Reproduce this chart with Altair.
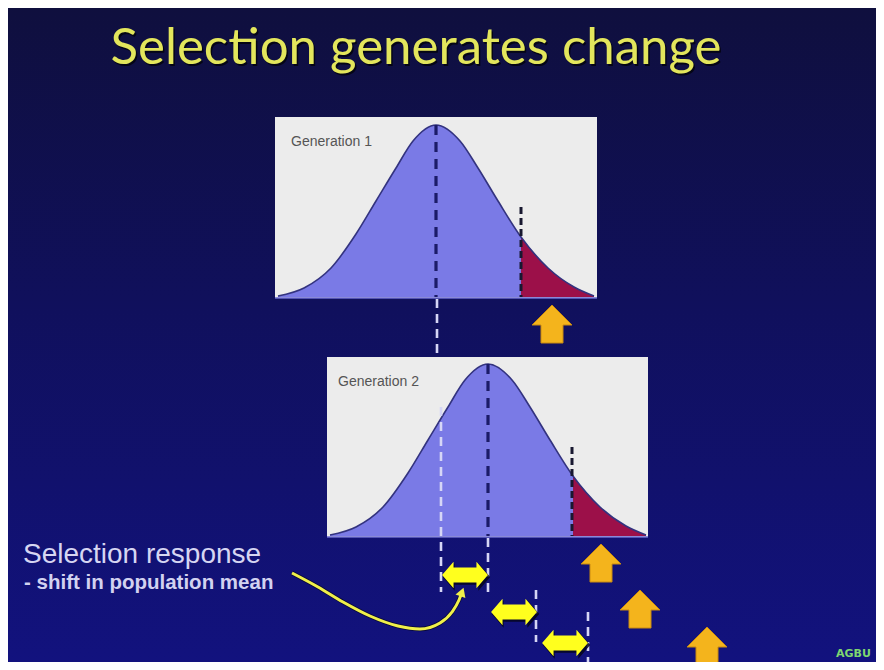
import altair as alt
import pandas as pd

# ---------------- data ----------------
title_text = "Selection generates change"
panel_names = ["Generation 1", "Generation 2"]
panel_left = [275, 327]
panel_right = [597, 648]
panel_top = [117, 357]
panel_bottom = [298, 537]
gen_mean = [436, 488]          # population mean of each generation
cut_point = [521, 572]         # truncation (selection) point
cut_top = [207, 447]           # where the selection dashes start
label_pos = [(291, 146), (338, 386)]

# bell-curve profile: offset from the mean and height above the baseline
curve_dx = [-158, -132, -105, -80, -60, -40, -23, 0, 24, 42, 62, 85, 112, 138, 158]
curve_h = [1, 9, 29, 63, 96, 129, 156, 172, 156, 129, 96, 60, 29, 10, 1]
cut_dx = 85

# white dashed guide lines (x, from, to)
guide_x = [437, 441, 488, 536, 588]
guide_y1 = [299, 407, 538, 590, 612]
guide_y2 = [357, 592, 598, 642, 666]

# yellow double arrows (selection response) and orange up arrows (selection)
resp_x = [465, 514, 565]
resp_y = [575, 612, 643]
sel_x = [552, 601, 640, 707]
sel_y = [324, 563, 609, 646]

# curved pointer from the caption to the first response arrow
pointer_x = [292, 318, 343, 370, 398, 420, 440, 452, 459, 462]
pointer_y = [573, 587, 602, 616, 626, 629, 623, 612, 600, 592]

caption_main = "Selection response"
caption_sub = "-  shift in population mean"

# ---------------- helpers ----------------
W, H = 868, 654
XS = alt.Scale(domain=[8, 876], nice=False, zero=False)
YS = alt.Scale(domain=[8, 662], nice=False, zero=False, reverse=True)


def X(f="x"):
    return alt.X(f"{f}:Q", scale=XS, axis=None)


def Y(f="y"):
    return alt.Y(f"{f}:Q", scale=YS, axis=None)


# ---------------- tables ----------------
panels = pd.DataFrame({"name": panel_names, "x": panel_left, "x2": panel_right,
                       "y": panel_top, "y2": panel_bottom})

curve_tabs, tail_tabs = [], []
for p in range(2):
    base = panel_bottom[p] - 1
    xs = [gen_mean[p] + dx for dx in curve_dx]
    ys = [base - h for h in curve_h]
    df = pd.DataFrame({"x": xs, "y": ys, "y2": [base] * len(xs)})
    curve_tabs.append(df)
    tail_tabs.append(df[[dx >= cut_dx for dx in curve_dx]].reset_index(drop=True))

mean_rules = pd.DataFrame({"x": gen_mean,
                           "y": [panel_bottom[p] - 1 - max(curve_h) for p in range(2)],
                           "y2": [b - 1 for b in panel_bottom]})
cut_rules = pd.DataFrame({"x": cut_point, "y": cut_top, "y2": [b - 1 for b in panel_bottom]})
guides = pd.DataFrame({"x": guide_x, "y": guide_y1, "y2": guide_y2})
resp = pd.DataFrame({"x": resp_x, "y": resp_y})
sel = pd.DataFrame({"x": sel_x, "y": sel_y})
pointer = pd.DataFrame({"i": list(range(len(pointer_x))), "x": pointer_x, "y": pointer_y})
pointer_tip = pointer.tail(1)

texts_title = pd.DataFrame({"x": [416], "y": [64], "t": [title_text]})
labels = pd.DataFrame({"x": [p[0] for p in label_pos], "y": [p[1] for p in label_pos],
                       "t": panel_names})
cap1 = pd.DataFrame({"x": [23], "y": [563], "t": [caption_main]})
cap2 = pd.DataFrame({"x": [24], "y": [589], "t": [caption_sub]})
logo = pd.DataFrame({"x": [836], "y": [657], "t": ["AGBU"]})

# ---------------- layers ----------------
bg = alt.Chart(pd.DataFrame({"a": [0]})).mark_rect(
    fill=alt.Gradient(gradient="linear",
                      stops=[alt.GradientStop(color="#0f0f3e", offset=0),
                             alt.GradientStop(color="#10105c", offset=0.45),
                             alt.GradientStop(color="#12127e", offset=1)],
                      x1=0, x2=0, y1=0, y2=1)
).encode(x=alt.value(0), x2=alt.value(W), y=alt.value(0), y2=alt.value(H))

panel_layer = alt.Chart(panels).mark_rect(fill="#ececec").encode(
    x=X(), x2="x2:Q", y=Y(), y2="y2:Q")

curve_layers = []
for p in range(2):
    curve_layers.append(
        alt.Chart(curve_tabs[p]).mark_area(interpolate="monotone", orient="vertical",
                                           color="#7a7ae6", opacity=1).encode(
            x=X(), y=Y(), y2=alt.Y2("y2:Q")))
    curve_layers.append(
        alt.Chart(tail_tabs[p]).mark_area(interpolate="monotone", orient="vertical",
                                          color="#9c1049", opacity=1).encode(
            x=X(), y=Y(), y2=alt.Y2("y2:Q")))
    curve_layers.append(
        alt.Chart(curve_tabs[p]).mark_line(interpolate="monotone", color="#33337f",
                                           strokeWidth=1.6).encode(x=X(), y=Y()))

baseline = alt.Chart(panels).mark_rule(color="#6a6ad0", strokeWidth=1.5).encode(
    x=X(), x2="x2:Q", y=alt.Y("y2:Q", scale=YS, axis=None))

mean_layer = alt.Chart(mean_rules).mark_rule(color="#1b1b68", strokeWidth=3.2, strokeDash=[10, 7]).encode(
    x=X(), y=Y(), y2="y2:Q")
cut_layer = alt.Chart(cut_rules).mark_rule(color="#181830", strokeWidth=3, strokeDash=[7, 4]).encode(
    x=X(), y=Y(), y2="y2:Q")
guide_layer = alt.Chart(guides).mark_rule(color="#d6d6f6", strokeWidth=2.6, strokeDash=[9, 6]).encode(
    x=X(), y=Y(), y2="y2:Q")

dbl = "M-1,0 L-0.5,-0.58 L-0.5,-0.33 L0.5,-0.33 L0.5,-0.58 L1,0 L0.5,0.58 L0.5,0.33 L-0.5,0.33 L-0.5,0.58 Z"
up = "M0,-0.95 L1,0.05 L0.55,0.05 L0.55,0.95 L-0.55,0.95 L-0.55,0.05 L-1,0.05 Z"

resp_shadow = alt.Chart(resp).mark_point(shape=dbl, filled=True, size=2250, color="#05051e", opacity=0.85,
                                         xOffset=1.5, yOffset=2).encode(x=X(), y=Y())
resp_layer = alt.Chart(resp).mark_point(shape=dbl, filled=True, size=2100, color="#ffff1e", opacity=1).encode(
    x=X(), y=Y())
sel_layer = alt.Chart(sel).mark_point(shape=up, filled=True, size=1600, color="#f4b41c", opacity=1,
                                      stroke="#c98a10", strokeWidth=1).encode(x=X(), y=Y())

pointer_shadow = alt.Chart(pointer).mark_line(interpolate="monotone", color="#05051e", strokeWidth=4.5,
                                              opacity=0.7).encode(x=X(), y=Y(), order="i:Q")
pointer_line = alt.Chart(pointer).mark_line(interpolate="monotone", color="#f0f04a", strokeWidth=3).encode(
    x=X(), y=Y(), order="i:Q")
pointer_head = alt.Chart(pointer_tip).mark_point(shape="triangle-up", filled=True, size=110, color="#f0f04a",
                                                 angle=20, opacity=1).encode(x=X(), y=Y())

title_shadow = alt.Chart(texts_title).mark_text(font="Lato", fontSize=51, color="#050515", align="center",
                                                baseline="alphabetic", dx=1.5, dy=1.5).encode(x=X(), y=Y(), text="t:N")
title = alt.Chart(texts_title).mark_text(font="Lato", fontSize=51, color="#e3e65c", align="center",
                                         baseline="alphabetic").encode(x=X(), y=Y(), text="t:N")
label_layer = alt.Chart(labels).mark_text(font="Liberation Sans", fontSize=14, color="#555555", align="left",
                                          baseline="alphabetic").encode(x=X(), y=Y(), text="t:N")
cap1_layer = alt.Chart(cap1).mark_text(font="Liberation Sans", fontSize=28, color="#d6d6f2", align="left",
                                       baseline="alphabetic").encode(x=X(), y=Y(), text="t:N")
cap2_layer = alt.Chart(cap2).mark_text(font="Liberation Sans", fontSize=20.5, fontWeight="bold", color="#d2d2f0",
                                       align="left", baseline="alphabetic").encode(x=X(), y=Y(), text="t:N")
logo_layer = alt.Chart(logo).mark_text(font="DejaVu Sans", fontSize=11, fontWeight="bold", color="#7ed870",
                                       align="left", baseline="alphabetic").encode(x=X(), y=Y(), text="t:N")

chart = alt.layer(
    bg, panel_layer, *curve_layers, baseline,
    mean_layer, cut_layer, guide_layer,
    pointer_shadow, pointer_line, pointer_head,
    resp_shadow, resp_layer, sel_layer,
    title_shadow, title, label_layer, cap1_layer, cap2_layer, logo_layer,
).properties(
    width=W, height=H, padding=0, autosize=alt.AutoSizeParams(type="none"), background="#0f0f3e"
).configure_view(stroke=None)

chart.save("out.html", embed_options={"renderer": "svg", "actions": False})
